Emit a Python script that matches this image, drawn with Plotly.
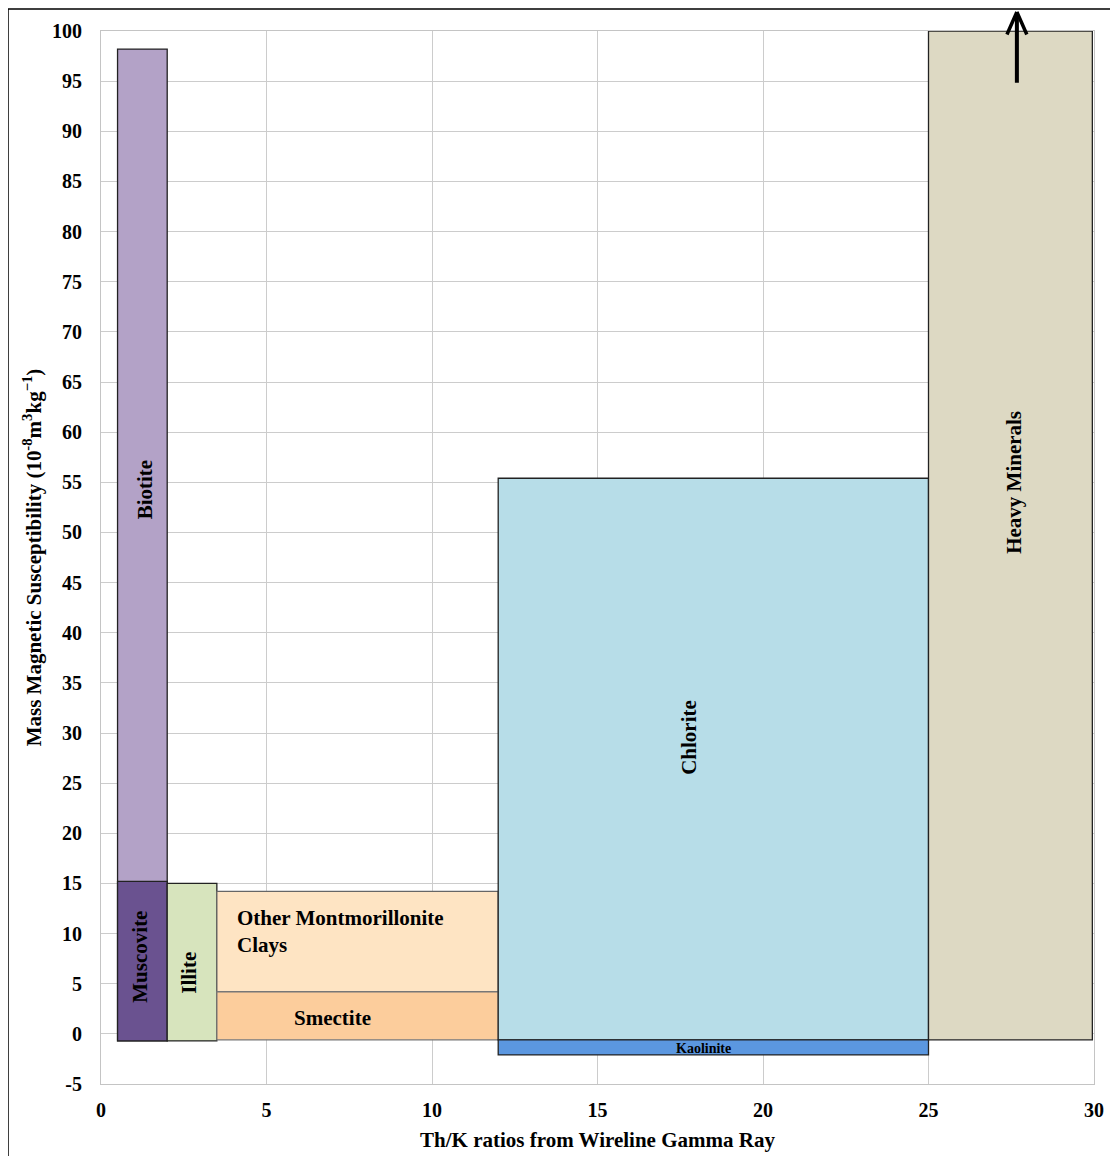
import plotly.graph_objects as go

# Mineral boxes: Th/K range (x0, x1) and susceptibility range (y0, y1)
minerals = ["Biotite", "Muscovite", "Illite", "Other Montmorillonite Clays", "Smectite",
            "Chlorite", "Kaolinite", "Heavy Minerals"]
x0 = [0.5, 0.5, 2.0, 3.5, 3.5, 12.0, 12.0, 25.0]
x1 = [2.0, 2.0, 3.5, 12.0, 12.0, 25.0, 25.0, 29.95]
y0 = [-0.7, -0.7, -0.7, 4.2, -0.6, -0.6, -2.1, -0.6]
y1 = [98.2, 15.2, 15.0, 14.2, 4.2, 55.4, -0.6, 100.0]
colors = ["#b3a2c7", "#6a5290", "#d7e4bd", "#fee4c3", "#fccd9c", "#b7dde8", "#5b97e0", "#ddd9c3"]
edge_colors = ["#222222", "#222222", "#222222", "#666666", "#777777", "#222222", "#222222", "#222222"]

# Label placement
label_text = ["Biotite", "Muscovite", "Illite", "Other Montmorillonite<br>Clays", "Smectite",
              "Chlorite", "Kaolinite", "Heavy Minerals"]
label_x = [1.33, 1.18, 2.66, 4.06, 6.98, 17.76, 18.2, 27.6]
label_y = [54.2, 7.7, 6.1, 10.2, 1.6, 29.6, -1.45, 55.0]
label_angle = [-90, -90, -90, 0, 0, -90, 0, -90]
label_size = [21, 21, 21, 21, 21, 21, 14, 21]

# Arrow showing Heavy Minerals extend beyond scale
arrow_x = 27.67
arrow_stem_y = [94.7, 101.6]
arrow_head_dx = [-0.32, 0.0, 0.32]
arrow_head_y = [99.5, 101.9, 99.5]

x_ticks = [0, 5, 10, 15, 20, 25, 30]
y_ticks = [-5, 0, 5, 10, 15, 20, 25, 30, 35, 40, 45, 50, 55, 60, 65, 70, 75, 80, 85, 90, 95, 100]
y_tick_text = [str(v) for v in y_ticks]

font_family = "Liberation Serif"

fig = go.Figure()
for i, m in enumerate(minerals):
    fig.add_trace(go.Bar(
        x=[(x0[i] + x1[i]) / 2], y=[y1[i] - y0[i]], base=[y0[i]], width=[x1[i] - x0[i]],
        marker=dict(color=colors[i], line=dict(color=edge_colors[i], width=1.3)),
        name=m, showlegend=False, hoverinfo="name",
    ))

# arrow: stem + two chevron arms, drawn as annotation lines (not clipped)
arrow_lw = 4
fig.add_annotation(x=arrow_x, y=arrow_stem_y[1], ax=arrow_x, ay=arrow_stem_y[0],
                   xref="x", yref="y", axref="x", ayref="y", text="", showarrow=True,
                   arrowhead=0, arrowwidth=arrow_lw, arrowcolor="black", standoff=0, startstandoff=0)
for k in (0, 2):
    fig.add_annotation(x=arrow_x + arrow_head_dx[1], y=arrow_head_y[1],
                       ax=arrow_x + arrow_head_dx[k], ay=arrow_head_y[k],
                       xref="x", yref="y", axref="x", ayref="y", text="", showarrow=True,
                       arrowhead=0, arrowwidth=arrow_lw - 0.5, arrowcolor="black",
                       standoff=0, startstandoff=0)

for t, lx, ly, ang, sz in zip(label_text, label_x, label_y, label_angle, label_size):
    fig.add_annotation(x=lx, y=ly, text="<b>" + t + "</b>", showarrow=False, textangle=ang,
                       xanchor="left" if t.startswith("Other") else "center",
                       align="left",
                       font=dict(family=font_family, size=sz, color="black"))

# outer frame of the image
fig.add_shape(type="rect", xref="paper", yref="paper", x0=-93 / 993, y0=-0.2, x1=1.2,
              y1=1 + 22 / 1053,
              line=dict(color="black", width=1.5), fillcolor="rgba(0,0,0,0)", layer="above")

fig.update_layout(
    width=1110, height=1148,
    margin=dict(l=93, r=24, t=23, b=72),
    paper_bgcolor="white", plot_bgcolor="white",
    barmode="overlay",
    font=dict(family=font_family, color="black"),
    xaxis=dict(range=[0, 30], tickvals=x_ticks, ticks="", showgrid=True, gridcolor="#cccccc",
               gridwidth=1, zeroline=False, showline=True, linecolor="#c4c4c4", mirror=True,
               automargin=False,
               tickfont=dict(family=font_family, size=20, color="black", weight="bold"),
               ticklabelstandoff=8,
               title=dict(text="<b>Th/K ratios from Wireline Gamma Ray</b>",
                          font=dict(family=font_family, size=21), standoff=12)),
    yaxis=dict(range=[-5, 100], tickvals=y_ticks, ticktext=y_tick_text, ticks="", showgrid=True,
               gridcolor="#cccccc",
               gridwidth=1, zeroline=False, showline=True, linecolor="#c4c4c4", mirror=True,
               automargin=False,
               tickfont=dict(family=font_family, size=20, color="black", weight="bold"),
               ticklabelstandoff=14,
               title=dict(text="<b>Mass Magnetic Susceptibility (10<sup>-8</sup>m<sup>3</sup>kg<sup>\u22121</sup>)</b>",
                          font=dict(family=font_family, size=21), standoff=4)),
)

fig.write_html("out.html")
